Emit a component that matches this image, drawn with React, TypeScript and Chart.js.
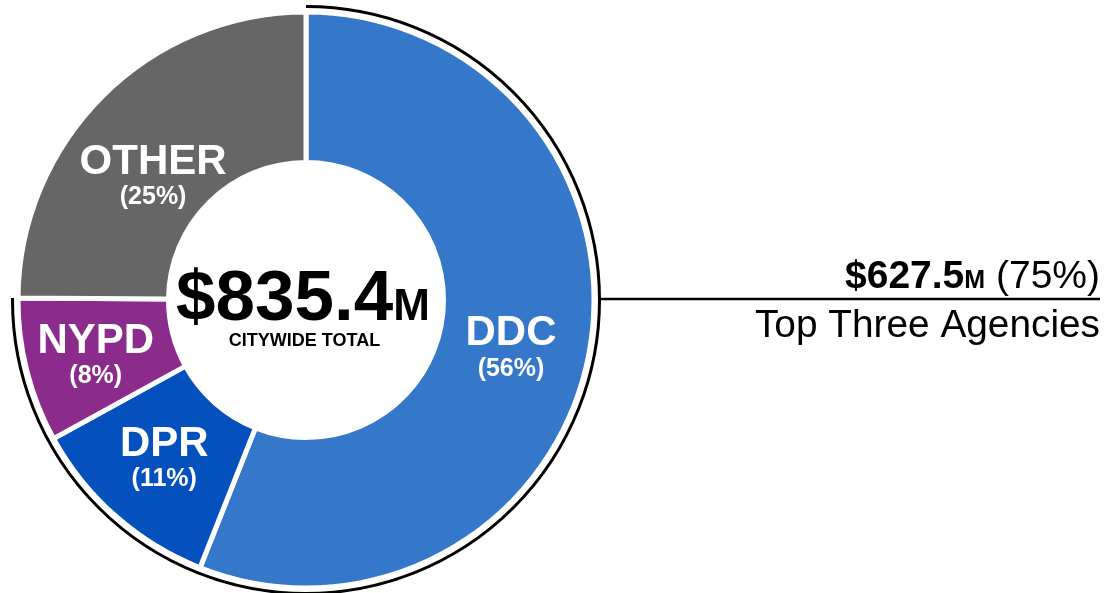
import { useEffect, useRef } from "react";
import { Chart, registerables } from "chart.js";

Chart.register(...registerables);

const categories = ["DDC", "DPR", "NYPD", "OTHER"];
const values = [467.8, 92.0, 67.7, 207.9];
const percentLabels = ["(56%)", "(11%)", "(8%)", "(25%)"];
const colors = ["#3578C9", "#0451BD", "#8B2B8C", "#666666"];
const totalValueLabel = "$835.4";
const totalUnitLabel = "M";
const totalCaption = "CITYWIDE TOTAL";
const topValueLabel = "$627.5";
const topUnitLabel = "M";
const topPctLabel = " (75%)";
const topCaption = "Top Three Agencies";
const topCount = 3;

const FONT = "'Liberation Sans', Arial, Helvetica, sans-serif";

const overlayPlugin = {
  id: "overlay",
  afterDatasetsDraw(chart: any) {
    const ctx: CanvasRenderingContext2D = chart.ctx;
    const meta = chart.getDatasetMeta(0);
    const arcs: any[] = meta.data;
    if (!arcs.length) return;
    const cx = arcs[0].x;
    const cy = arcs[0].y;
    const outer = arcs[0].outerRadius;
    const bracketR = outer + 5.5;

    ctx.save();
    // bracket arc around top agencies
    ctx.beginPath();
    ctx.strokeStyle = "#000";
    ctx.lineWidth = 3;
    ctx.arc(cx, cy, bracketR, arcs[0].startAngle, arcs[topCount - 1].endAngle);
    ctx.stroke();

    // connector line
    const rightX = chart.width - 9;
    ctx.beginPath();
    ctx.lineWidth = 2.5;
    ctx.moveTo(cx + bracketR - 1, cy - 1);
    ctx.lineTo(rightX, cy - 1);
    ctx.stroke();

    // right annotation
    ctx.fillStyle = "#000";
    ctx.textBaseline = "alphabetic";
    ctx.textAlign = "left";
    ctx.font = `39px ${FONT}`;
    const wPct = ctx.measureText(topPctLabel).width;
    ctx.font = `bold 25px ${FONT}`;
    const wUnit = ctx.measureText(topUnitLabel).width;
    ctx.font = `bold 39px ${FONT}`;
    const wVal = ctx.measureText(topValueLabel).width;
    let tx = rightX - wPct - wUnit - wVal;
    const by = cy - 12;
    ctx.fillText(topValueLabel, tx, by);
    tx += wVal;
    ctx.font = `bold 25px ${FONT}`;
    ctx.fillText(topUnitLabel, tx, by);
    tx += wUnit;
    ctx.font = `39px ${FONT}`;
    ctx.fillText(topPctLabel, tx, by);

    ctx.textAlign = "right";
    ctx.font = `38.8px ${FONT}`;
    ctx.fillText(topCaption, rightX, cy + 37);

    // center total
    ctx.textAlign = "left";
    ctx.font = `bold 71px ${FONT}`;
    const wT = ctx.measureText(totalValueLabel).width;
    ctx.font = `bold 44px ${FONT}`;
    const wM = ctx.measureText(totalUnitLabel).width;
    let sx = cx - 3 - (wT + wM) / 2;
    ctx.font = `bold 71px ${FONT}`;
    ctx.fillText(totalValueLabel, sx, cy + 20);
    ctx.font = `bold 44px ${FONT}`;
    ctx.fillText(totalUnitLabel, sx + wT, cy + 20);
    ctx.textAlign = "center";
    ctx.font = `bold 18px ${FONT}`;
    ctx.fillText(totalCaption, cx - 1.5, cy + 46);

    // segment labels
    const nudges = [
      [-4, 10],
      [-1, 1],
      [-4, 5],
      [-3, 29],
    ];
    ctx.fillStyle = "#fff";
    ctx.textBaseline = "middle";
    arcs.forEach((arc, i) => {
      const p = arc.tooltipPosition(true);
      const gx = p.x + (nudges[i] ? nudges[i][0] : 0);
      const gy = p.y + (nudges[i] ? nudges[i][1] : 0);
      ctx.font = `bold 42px ${FONT}`;
      ctx.fillText(categories[i], gx, gy - 16);
      ctx.font = `bold 25px ${FONT}`;
      ctx.fillText(percentLabels[i], gx, gy + 19);
    });
    ctx.restore();
  },
};

export default function App() {
  const canvasRef = useRef<HTMLCanvasElement | null>(null);

  useEffect(() => {
    if (!canvasRef.current) return;
    const chart = new Chart(canvasRef.current, {
      type: "doughnut",
      data: {
        labels: categories,
        datasets: [
          {
            data: values,
            backgroundColor: colors,
            borderColor: "#ffffff",
            borderWidth: 5,
          },
        ],
      },
      options: {
        responsive: false,
        animation: false,
        events: [],
        cutout: 137.5,
        layout: {
          padding: { left: 15.5, top: 9.5, right: 512.5, bottom: 2.5 },
        },
        plugins: {
          legend: { display: false },
          tooltip: { enabled: false },
        },
      },
      plugins: [overlayPlugin],
    });
    return () => chart.destroy();
  }, []);

  return (
    <div style={{ position: "absolute", left: 0, top: 0, width: 1109, height: 593, background: "#fff" }}>
      <canvas ref={canvasRef} width={1109} height={593} style={{ width: 1109, height: 593, display: "block" }} />
    </div>
  );
}
